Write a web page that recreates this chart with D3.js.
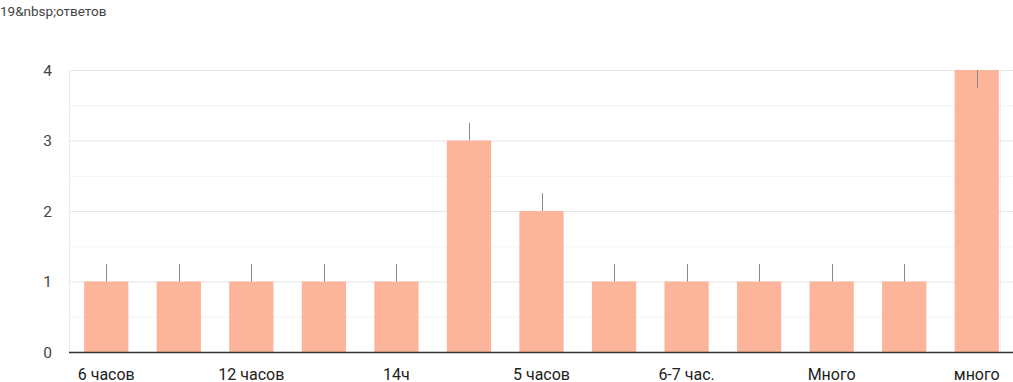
<!DOCTYPE html>
<html><head><meta charset="utf-8">
<script src="https://cdn.jsdelivr.net/npm/d3@7"></script>
<style>body{margin:0;background:#fff;}svg{display:block;font-family:Roboto,Arial,sans-serif;}</style>
</head><body><svg id="c" width="1013" height="382"></svg>
<script>
const title = "19&nbsp;ответов";
const categories = ["6 часов","","12 часов","","14ч","","5 часов","","6-7 час.","","Много","","много"];
const values = [1,1,1,1,1,3,2,1,1,1,1,1,4];
const errorMargin = [0.25,0.25,0.25,0.25,0.25,0.25,0.25,0.25,0.25,0.25,0.25,0.25,0.25];
const yTicks = [0,1,2,3,4];
const yMinor = [0.5,1.5,2.5,3.5];

const svg = d3.select("#c");
const pL = 69, pR = 1013, pT = 70, pB = 352;
const yMax = 4;
const x = d3.scaleBand().domain(d3.range(values.length)).range([pL+1, pR]).paddingInner(0.39).paddingOuter(0.195);
const y = d3.scaleLinear().domain([0,yMax]).range([pB, pT]);

svg.append("text").attr("x",0).attr("y",16).attr("font-size",13.5).attr("fill","#444").text(title);

svg.selectAll(".mg").data(yMinor).enter().append("line")
  .attr("x1",pL).attr("x2",pR).attr("y1",d=>y(d)+0.5).attr("y2",d=>y(d)+0.5)
  .attr("stroke","#f3f3f3").attr("stroke-width",1);
svg.selectAll(".g").data(yTicks.slice(1)).enter().append("line")
  .attr("x1",pL).attr("x2",pR).attr("y1",d=>y(d)+0.5).attr("y2",d=>y(d)+0.5)
  .attr("stroke","#e6e6e6").attr("stroke-width",1);
svg.append("line").attr("x1",pL+0.5).attr("x2",pL+0.5).attr("y1",pT).attr("y2",pB).attr("stroke","#ececec");
svg.append("line").attr("x1",1000.5).attr("x2",1000.5).attr("y1",pT).attr("y2",pB).attr("stroke","#f0f0f0");

svg.selectAll(".yl").data(yTicks).enter().append("text")
  .attr("x",52).attr("y",d=>y(d)+5.5).attr("text-anchor","end").attr("font-size",15.5).attr("fill","#444").text(d=>d);

svg.selectAll(".b").data(values).enter().append("rect")
  .attr("x",(d,i)=>x(i)).attr("width",x.bandwidth())
  .attr("y",d=>y(d)).attr("height",d=>pB-y(d)).attr("fill","#fcb49b");

// visible whisker: upward from bar top, or downward when clipped at the top of the axis
svg.selectAll(".e").data(values).enter().append("line")
  .attr("x1",(d,i)=>Math.round(x(i)+x.bandwidth()/2)+0.5).attr("x2",(d,i)=>Math.round(x(i)+x.bandwidth()/2)+0.5)
  .attr("y1",d=>y(d))
  .attr("y2",(d,i)=>d+errorMargin[i] > yMax ? y(d-errorMargin[i]) : y(d+errorMargin[i]))
  .attr("stroke","#888").attr("stroke-width",1);

svg.append("line").attr("x1",pL).attr("x2",pR).attr("y1",pB+0.5).attr("y2",pB+0.5).attr("stroke","#333").attr("stroke-width",1.5);

svg.selectAll(".xl").data(categories).enter().append("text")
  .attr("x",(d,i)=>x(i)+x.bandwidth()/2).attr("y",379.5).attr("text-anchor","middle")
  .attr("font-size",16).attr("fill","#222").text(d=>d);
</script></body></html>
